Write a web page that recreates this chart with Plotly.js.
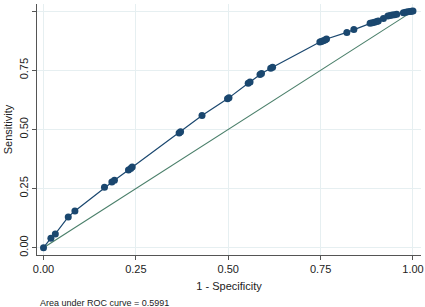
<!DOCTYPE html>
<html>
<head>
<meta charset="utf-8">
<script src="https://cdn.plot.ly/plotly-3.0.1.min.js"></script>
<style>html,body{margin:0;padding:0;background:#fff;}#chart{width:425px;height:307px;}</style>
</head>
<body>
<div id="chart"></div>
<script>
var specComplement = [0, 0.020, 0.032, 0.067, 0.085, 0.165, 0.185, 0.192, 0.230, 0.236, 0.240, 0.367, 0.371, 0.429, 0.498, 0.502, 0.554, 0.559, 0.586, 0.590, 0.615, 0.620, 0.748, 0.752, 0.757, 0.762, 0.766, 0.821, 0.840, 0.884, 0.890, 0.896, 0.902, 0.906, 0.920, 0.932, 0.938, 0.944, 0.950, 0.956, 0.974, 0.980, 0.986, 0.992, 0.996, 1.0];
var sensitivity = [0, 0.040, 0.058, 0.130, 0.155, 0.255, 0.278, 0.285, 0.328, 0.335, 0.341, 0.485, 0.490, 0.559, 0.629, 0.634, 0.695, 0.700, 0.732, 0.736, 0.758, 0.763, 0.869, 0.872, 0.875, 0.878, 0.882, 0.910, 0.922, 0.949, 0.951, 0.953, 0.956, 0.958, 0.969, 0.979, 0.981, 0.983, 0.985, 0.987, 0.993, 0.995, 0.997, 0.998, 0.999, 1.0];
var refLine = [0, 1];
var tickVals = [0, 0.25, 0.5, 0.75, 1];
var tickText = ["0.00", "0.25", "0.50", "0.75", "1.00"];
var captionText = "Area under ROC curve = 0.5991";

var traces = [
  {x: refLine, y: refLine, mode: "lines", line: {color: "#4a7f6a", width: 1.1}, hoverinfo: "skip"},
  {x: specComplement, y: sensitivity, mode: "lines+markers",
   line: {color: "#1a476f", width: 1.2},
   marker: {color: "#1a476f", size: 7}}
];
var axisCommon = {
  tickvals: tickVals, ticktext: tickText,
  showgrid: true, gridcolor: "#e6eff1", gridwidth: 1,
  zeroline: false, showline: true, linecolor: "#555", linewidth: 1,
  ticks: "outside", ticklen: 4, tickcolor: "#555", tickwidth: 1,
  tickfont: {family: "Liberation Sans, Arial, sans-serif", size: 11, color: "#222"}
};
var layout = {
  width: 425, height: 307,
  margin: {l: 37, r: 4, t: 4, b: 52},
  paper_bgcolor: "#fff", plot_bgcolor: "#fff",
  showlegend: false,
  xaxis: Object.assign({}, axisCommon, {
    range: [-0.0176, 1.0217],
    title: {text: "1 - Specificity", font: {family: "Liberation Sans, Arial, sans-serif", size: 11, color: "#222"}, standoff: 8}
  }),
  yaxis: Object.assign({}, axisCommon, {
    range: [-0.031, 1.03], tickangle: -90,
    title: {text: "Sensitivity", font: {family: "Liberation Sans, Arial, sans-serif", size: 11, color: "#222"}, standoff: 2}
  }),
  annotations: [{
    text: captionText, xref: "paper", yref: "paper", x: 0.003, y: -0.19,
    xanchor: "left", yanchor: "middle", showarrow: false,
    font: {family: "Liberation Sans, Arial, sans-serif", size: 9, color: "#222"}
  }]
};
Plotly.newPlot("chart", traces, layout, {displayModeBar: false, staticPlot: true});
</script>
</body>
</html>
